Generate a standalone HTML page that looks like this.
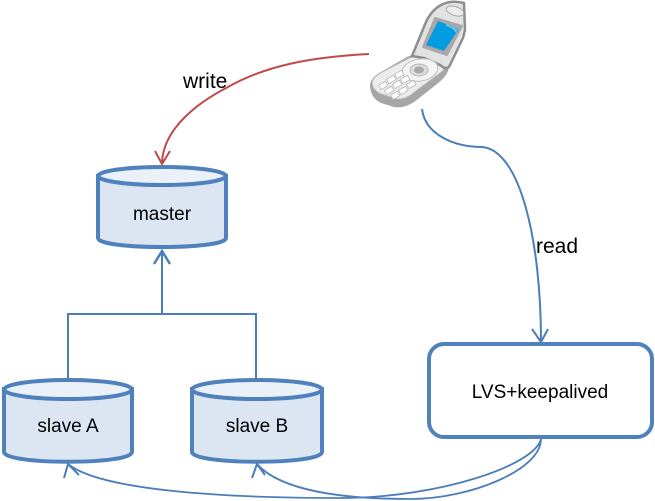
<!DOCTYPE html>
<html>
<head>
<meta charset="utf-8">
<style>
html,body{margin:0;padding:0;background:#fff}
svg{display:block}
text{font-family:"Liberation Sans",sans-serif;fill:#000}
</style>
</head>
<body>
<svg width="655" height="501" viewBox="0 0 655 501" xmlns="http://www.w3.org/2000/svg">
<!-- phone -->
<path d="M370 84 Q372 77 381 72 L405 58 Q412 54 420 55 L441 61 Q450 65 448 71 Q446 77 437 84 L418 99 Q406 109 394 107 L381 103 Q370 98 370 84Z" fill="#a6a6a6"/>
<path d="M372 82 Q373 77 382 72 L405 60 Q412 56 420 57 L438 62 Q446 65 443 71 L416 91 Q406 100 396 99 L381 94 Q372 90 372 82Z" fill="#ececec" stroke="#b4b4b4" stroke-width="1"/>
<path d="M412 56 L426 22 Q432 9 443 4 Q452 0 464 3 L465 30 L463 38 L449 67 Q446 70 440 65 L424 58Z" fill="#e2e2e2" stroke="#8e8e8e" stroke-width="2.500"/>
<path d="M435 18 L462 26 L447 55 L423 47 Z" fill="#a8a8a8" stroke="#a8a8a8" stroke-width="2" stroke-linejoin="round"/>
<path d="M438 21 L459 29 L444 51 L426 45 Z" fill="#049ce0"/>
<path d="M446 24 L458 29 L456 33 Q452 27 446 26Z" fill="#6cc0ec"/>
<ellipse cx="455" cy="11" rx="9" ry="4.500" fill="#ececec" stroke="#a8a8a8" transform="rotate(18 455 11)"/>
<ellipse cx="420" cy="70" rx="18" ry="11" fill="#f4f4f4" stroke="#c0c0c0" transform="rotate(-10 420 70)"/>
<ellipse cx="419" cy="70" rx="9" ry="6" fill="#dcdcdc" stroke="#b8b8b8"/>
<ellipse cx="419" cy="70" rx="5" ry="3.500" fill="#a8a8a8"/>
<g fill="#fff" stroke="#b0b0b0" stroke-width=".7">
<rect x="379" y="83" width="8" height="5" transform="rotate(-30 383 85)"/>
<rect x="387" y="77" width="8" height="5" transform="rotate(-30 391 79)"/>
<rect x="395" y="72" width="8" height="5" transform="rotate(-30 399 74)"/>
<rect x="385" y="88" width="8" height="5" transform="rotate(-30 389 90)"/>
<rect x="393" y="82" width="8" height="5" transform="rotate(-30 397 84)"/>
<rect x="401" y="77" width="8" height="5" transform="rotate(-30 405 79)"/>
<rect x="391" y="93" width="8" height="5" transform="rotate(-30 395 95)"/>
<rect x="399" y="88" width="8" height="5" transform="rotate(-30 403 90)"/>
<rect x="407" y="82" width="8" height="5" transform="rotate(-30 411 84)"/>
</g>
<text x="183" y="88" font-size="21">write</text>
<text x="536" y="253" font-size="21">read</text>
<!-- red write connector -->
<path d="M369 54 C310 57 265 66 228 87 C195 104 163 130 162 163" fill="none" stroke="#be4b48" stroke-width="2"/>
<path d="M155 151 L162 164 L170 151" fill="none" stroke="#be4b48" stroke-width="2"/>
<!-- blue read connector -->
<path d="M422 109 C425 135 455 147 482 147 C520 150 541 240 541 342" fill="none" stroke="#4a7ebb" stroke-width="2"/>
<path d="M532 329 L541 342 L548 329" fill="none" stroke="#4a7ebb" stroke-width="2"/>
<!-- tree -->
<path d="M162 250 V314 M68 379 V314 H256 V379" fill="none" stroke="#4a7ebb" stroke-width="2"/>
<path d="M154 264 L162 251 L170 264" fill="none" stroke="#4a7ebb" stroke-width="2.500"/>
<!-- cylinders -->
<g stroke="#4f81bd" stroke-width="4" fill="#dce6f2">
<path d="M98 176 V238 C98 250 226 250 226 238 V176Z"/>
<ellipse cx="162" cy="176" rx="64" ry="9" fill="#ebf1f9"/>
<path d="M4 389 V452 C4 465 132 465 132 452 V389Z"/>
<ellipse cx="68" cy="389.500" rx="64" ry="9.500" fill="#ebf1f9"/>
<path d="M192 389 V452 C192 465 322 465 322 452 V389Z"/>
<ellipse cx="257" cy="389.500" rx="65" ry="9.500" fill="#ebf1f9"/>
</g>
<text x="162" y="220" font-size="19" text-anchor="middle">master</text>
<text x="68" y="432" font-size="19" text-anchor="middle">slave A</text>
<text x="257" y="432" font-size="19" text-anchor="middle">slave B</text>
<!-- LVS box -->
<rect x="429" y="344" width="223" height="93" rx="15" ry="15" fill="#fff" stroke="#4f81bd" stroke-width="4"/>
<text x="540" y="398" font-size="19" text-anchor="middle">LVS+keepalived</text>
<!-- lower connectors -->
<path d="M541 439 C535 465 440 498 340 498 C220 498 100 490 68 464" fill="none" stroke="#4a7ebb" stroke-width="1.800"/>
<path d="M541 439 C541 470 470 499 410 499 C340 499 280 490 257 464" fill="none" stroke="#4a7ebb" stroke-width="1.800"/>
<path d="M64 478 L68 464 L79 475" fill="none" stroke="#4a7ebb" stroke-width="2"/>
<path d="M252 478 L257 464 L265 475" fill="none" stroke="#4a7ebb" stroke-width="2"/>
</svg>
</body>
</html>
